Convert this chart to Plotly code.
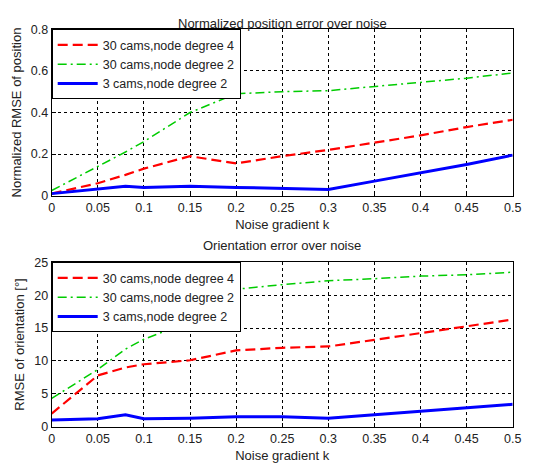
import plotly.graph_objects as go

k = [0, 0.05, 0.08, 0.1, 0.15, 0.2, 0.25, 0.3, 0.35, 0.4, 0.45, 0.5]

pos_30_deg4 = [0.01, 0.06, 0.10, 0.13, 0.19, 0.155, 0.19, 0.22, 0.255, 0.29, 0.33, 0.365]
pos_30_deg2 = [0.025, 0.14, 0.21, 0.26, 0.40, 0.49, 0.50, 0.505, 0.525, 0.545, 0.565, 0.59]
pos_3_deg2 = [0.01, 0.03, 0.045, 0.04, 0.045, 0.04, 0.035, 0.03, 0.07, 0.11, 0.15, 0.195]

ori_30_deg4 = [2.0, 7.8, 9.0, 9.5, 10.1, 11.6, 12.0, 12.2, 13.2, 14.2, 15.2, 16.3]
ori_30_deg2 = [4.3, 8.7, 11.8, 13.3, 16.0, 20.9, 21.6, 22.2, 22.5, 22.9, 23.1, 23.5]
ori_3_deg2 = [1.0, 1.2, 1.8, 1.2, 1.3, 1.5, 1.5, 1.3, 1.8, 2.3, 2.8, 3.4]

names = ["30 cams,node degree 4", "30 cams,node degree 2", "3 cams,node degree 2"]
xticks = [0, 0.05, 0.1, 0.15, 0.2, 0.25, 0.3, 0.35, 0.4, 0.45, 0.5]
xticklabels = ["0", "0.05", "0.1", "0.15", "0.2", "0.25", "0.3", "0.35", "0.4", "0.45", "0.5"]

styles = [
    dict(color="#FF0000", width=2.2, dash="10px,5px"),
    dict(color="#00CC00", width=1.5, dash="9px,4px,2px,4px"),
    dict(color="#0000FF", width=3, dash="solid"),
]

fig = go.Figure()
FONT = "Liberation Sans, Arial, sans-serif"
TXT = "#222222"

for i, ys in enumerate([pos_30_deg4, pos_30_deg2, pos_3_deg2]):
    fig.add_trace(go.Scatter(x=k, y=ys, mode="lines", name=names[i], line=styles[i],
                             xaxis="x", yaxis="y", legend="legend"))
for i, ys in enumerate([ori_30_deg4, ori_30_deg2, ori_3_deg2]):
    fig.add_trace(go.Scatter(x=k, y=ys, mode="lines", name=names[i], line=styles[i],
                             xaxis="x2", yaxis="y2", legend="legend2"))

axis_common = dict(showline=True, linecolor="black", linewidth=1, mirror=True,
                   ticks="inside", ticklen=4, tickcolor="black", automargin=False,
                   showgrid=True, gridcolor="black", griddash="dot", gridwidth=1,
                   zeroline=False, tickfont=dict(family=FONT, size=12.5, color=TXT))

xl = 51.7 / 542
xr = 512.7 / 542
top1 = 1 - 29.3 / 466
bot1 = 1 - 195.7 / 466
top2 = 1 - 262.3 / 466
bot2 = 1 - 426.7 / 466
tfont = dict(size=13, family=FONT, color=TXT)

fig.update_layout(
    width=542, height=466, margin=dict(l=0, r=0, t=0, b=0),
    paper_bgcolor="white", plot_bgcolor="white",
    font=dict(family=FONT, size=12, color=TXT),
    xaxis=dict(domain=[xl, xr], anchor="y", range=[0, 0.5], tickvals=xticks, ticktext=xticklabels,
               title=dict(text="Noise gradient k", font=tfont, standoff=6), **axis_common),
    yaxis=dict(domain=[bot1, top1], anchor="x", range=[0, 0.8],
               tickvals=[0, 0.2, 0.4, 0.6, 0.8], ticktext=["0", "0.2", "0.4", "0.6", "0.8"],
               title=dict(text="Normalized RMSE of position", font=tfont, standoff=6), **axis_common),
    xaxis2=dict(domain=[xl, xr], anchor="y2", range=[0, 0.5], tickvals=xticks, ticktext=xticklabels,
                title=dict(text="Noise gradient k", font=tfont, standoff=6), **axis_common),
    yaxis2=dict(domain=[bot2, top2], anchor="x2", range=[0, 25],
                tickvals=[0, 5, 10, 15, 20, 25],
                title=dict(text="RMSE of orientation [°]", font=tfont, standoff=6), **axis_common),
    legend=dict(x=xl, y=top1, xanchor="left", yanchor="top", bgcolor="white",
                bordercolor="black", borderwidth=1, font=dict(family=FONT, size=12.5, color=TXT),
                tracegroupgap=0, itemwidth=40),
    legend2=dict(x=xl, y=top2, xanchor="left", yanchor="top", bgcolor="white",
                 bordercolor="black", borderwidth=1, font=dict(family=FONT, size=12.5, color=TXT),
                 tracegroupgap=0, itemwidth=40),
    annotations=[
        dict(text="Normalized position error over noise", x=(xl + xr) / 2, y=1 - 14 / 466,
             xref="paper", yref="paper", showarrow=False, font=tfont),
        dict(text="Orientation error over noise", x=(xl + xr) / 2, y=1 - 245.7 / 466,
             xref="paper", yref="paper", showarrow=False, font=tfont),
    ],
)

fig.write_html("out.html")
